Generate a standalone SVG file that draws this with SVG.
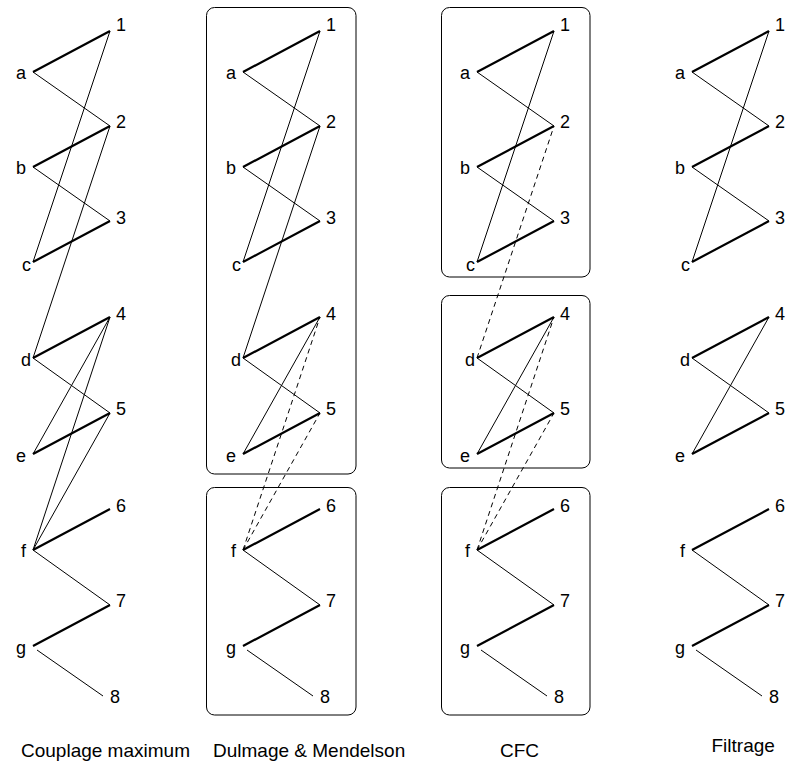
<svg xmlns="http://www.w3.org/2000/svg" width="790" height="765" viewBox="0 0 790 765">
<style>
text{font-family:"Liberation Sans",Arial,sans-serif;font-size:18px;fill:#000}
.l{text-anchor:end}
.t{stroke:#000;stroke-width:1;fill:none}
.k{stroke:#000;stroke-width:2.2;fill:none}
.d{stroke:#000;stroke-width:1;fill:none;stroke-dasharray:5,4}
.box{fill:none;stroke:#000;stroke-width:1}
</style>
<rect width="790" height="765" fill="#fff"/>
<g id="boxes">
<rect id="dm-box1" class="box" x="206.5" y="7.5" width="149.5" height="466.5" rx="8"/>
<rect id="dm-box2" class="box" x="206.5" y="487.5" width="149.5" height="227.5" rx="8"/>
<rect id="cfc-box1" class="box" x="441.5" y="7.5" width="148.5" height="269.5" rx="8"/>
<rect id="cfc-box2" class="box" x="441.5" y="295.5" width="148.5" height="172.5" rx="8"/>
<rect id="cfc-box3" class="box" x="441.5" y="487.5" width="148.5" height="227.5" rx="8"/>
</g>
<g id="connectors">
<g id="p1-edges">
<path class="k" d="M33 72L110 31M33 167L110 126M33 262L110 221M33 358L110 317M33 454L110 413M33 550L110 509M33 646L110 605"/>
<path class="t" d="M33 72L110 126M33 167L110 221M33 262L110 31M33 358L110 126M33 358L110 413M33 454L110 317M33 550L110 317M33 550L110 413M33 550L110 605M37 650L103 696"/>
</g>
<g id="p2-edges" transform="translate(210,0)">
<path class="k" d="M33 72L110 31M33 167L110 126M33 262L110 221M33 358L110 317M33 454L110 413M33 550L110 509M33 646L110 605"/>
<path class="t" d="M33 72L110 126M33 167L110 221M33 262L110 31M33 358L110 126M33 358L110 413M33 454L110 317M33 550L110 605M37 650L103 696"/>
<path class="d" d="M33 550L110 317M33 550L110 413"/>
</g>
<g id="p3-edges" transform="translate(444,0)">
<path class="k" d="M33 72L110 31M33 167L110 126M33 262L110 221M33 358L110 317M33 454L110 413M33 550L110 509M33 646L110 605"/>
<path class="t" d="M33 72L110 126M33 167L110 221M33 262L110 31M33 358L110 413M33 454L110 317M33 550L110 605M37 650L103 696"/>
<path class="d" d="M33 358L110 126M33 550L110 317M33 550L110 413"/>
</g>
<g id="p4-edges" transform="translate(659,0)">
<path class="k" d="M33 72L110 31M33 167L110 126M33 262L110 221M33 358L110 317M33 454L110 413M33 550L110 509M33 646L110 605"/>
<path class="t" d="M33 72L110 126M33 167L110 221M33 262L110 31M33 358L110 413M33 454L110 317M33 550L110 605M37 650L103 696"/>
</g>
</g>
<g id="p1" transform="translate(0,0)">
<g id="p1-a"><text class="l" x="26" y="79">a</text></g>
<g id="p1-b"><text class="l" x="26" y="174">b</text></g>
<g id="p1-c"><text class="l" x="31" y="271">c</text></g>
<g id="p1-d"><text class="l" x="31" y="366">d</text></g>
<g id="p1-e"><text class="l" x="26" y="462">e</text></g>
<g id="p1-f"><text class="l" x="26" y="557">f</text></g>
<g id="p1-g"><text class="l" x="26" y="654">g</text></g>
<g id="p1-1"><text x="116" y="31">1</text></g>
<g id="p1-2"><text x="116" y="128">2</text></g>
<g id="p1-3"><text x="116" y="224">3</text></g>
<g id="p1-4"><text x="116" y="320">4</text></g>
<g id="p1-5"><text x="116" y="415">5</text></g>
<g id="p1-6"><text x="116" y="512">6</text></g>
<g id="p1-7"><text x="116" y="607">7</text></g>
<g id="p1-8"><text x="110" y="703">8</text></g>
</g>
<g id="p2" transform="translate(210,0)">
<g id="p2-a"><text class="l" x="26" y="79">a</text></g>
<g id="p2-b"><text class="l" x="26" y="174">b</text></g>
<g id="p2-c"><text class="l" x="31" y="271">c</text></g>
<g id="p2-d"><text class="l" x="31" y="366">d</text></g>
<g id="p2-e"><text class="l" x="26" y="462">e</text></g>
<g id="p2-f"><text class="l" x="26" y="557">f</text></g>
<g id="p2-g"><text class="l" x="26" y="654">g</text></g>
<g id="p2-1"><text x="116" y="31">1</text></g>
<g id="p2-2"><text x="116" y="128">2</text></g>
<g id="p2-3"><text x="116" y="224">3</text></g>
<g id="p2-4"><text x="116" y="320">4</text></g>
<g id="p2-5"><text x="116" y="415">5</text></g>
<g id="p2-6"><text x="116" y="512">6</text></g>
<g id="p2-7"><text x="116" y="607">7</text></g>
<g id="p2-8"><text x="110" y="703">8</text></g>
</g>
<g id="p3" transform="translate(444,0)">
<g id="p3-a"><text class="l" x="26" y="79">a</text></g>
<g id="p3-b"><text class="l" x="26" y="174">b</text></g>
<g id="p3-c"><text class="l" x="31" y="271">c</text></g>
<g id="p3-d"><text class="l" x="31" y="366">d</text></g>
<g id="p3-e"><text class="l" x="26" y="462">e</text></g>
<g id="p3-f"><text class="l" x="26" y="557">f</text></g>
<g id="p3-g"><text class="l" x="26" y="654">g</text></g>
<g id="p3-1"><text x="116" y="31">1</text></g>
<g id="p3-2"><text x="116" y="128">2</text></g>
<g id="p3-3"><text x="116" y="224">3</text></g>
<g id="p3-4"><text x="116" y="320">4</text></g>
<g id="p3-5"><text x="116" y="415">5</text></g>
<g id="p3-6"><text x="116" y="512">6</text></g>
<g id="p3-7"><text x="116" y="607">7</text></g>
<g id="p3-8"><text x="110" y="703">8</text></g>
</g>
<g id="p4" transform="translate(659,0)">
<g id="p4-a"><text class="l" x="26" y="79">a</text></g>
<g id="p4-b"><text class="l" x="26" y="174">b</text></g>
<g id="p4-c"><text class="l" x="31" y="271">c</text></g>
<g id="p4-d"><text class="l" x="31" y="366">d</text></g>
<g id="p4-e"><text class="l" x="26" y="462">e</text></g>
<g id="p4-f"><text class="l" x="26" y="557">f</text></g>
<g id="p4-g"><text class="l" x="26" y="654">g</text></g>
<g id="p4-1"><text x="116" y="31">1</text></g>
<g id="p4-2"><text x="116" y="128">2</text></g>
<g id="p4-3"><text x="116" y="224">3</text></g>
<g id="p4-4"><text x="116" y="320">4</text></g>
<g id="p4-5"><text x="116" y="415">5</text></g>
<g id="p4-6"><text x="116" y="512">6</text></g>
<g id="p4-7"><text x="116" y="607">7</text></g>
<g id="p4-8"><text x="110" y="703">8</text></g>
</g>
<g id="captions">
<text x="21" y="757" style="font-size:19px">Couplage maximum</text>
<text x="213" y="757" style="font-size:19px">Dulmage &amp; Mendelson</text>
<text x="500" y="757" style="font-size:19px">CFC</text>
<text x="711.5" y="752" style="font-size:19px">Filtrage</text>
</g>
</svg>
